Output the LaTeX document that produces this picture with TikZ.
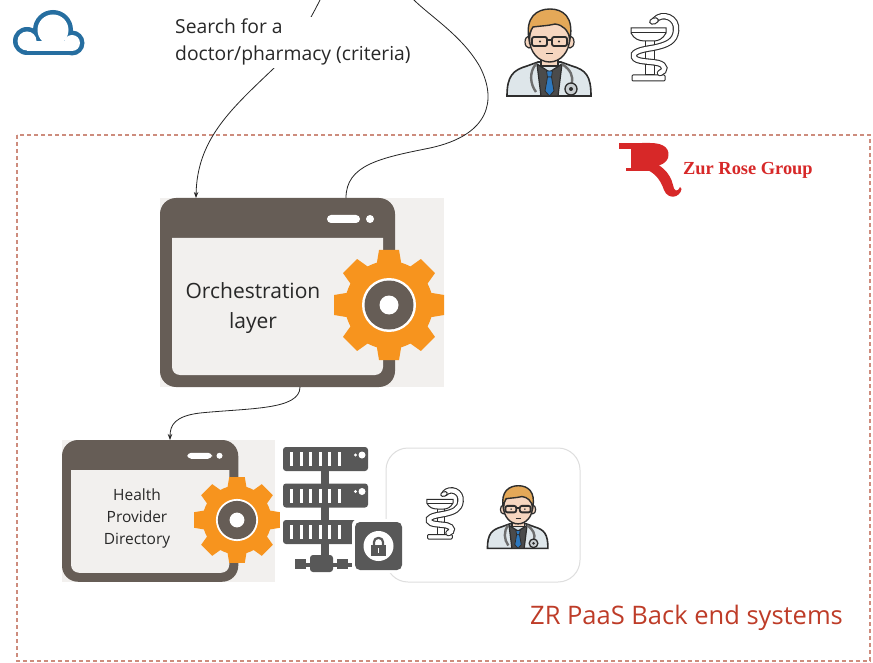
\documentclass[tikz,border=0pt]{standalone}
\usepackage{fontspec}
\setmainfont{Open Sans}
\newfontfamily\logofont{Liberation Serif}
\usetikzlibrary{arrows.meta,calc}

\definecolor{textdark}{RGB}{40,40,40}
\definecolor{ink}{RGB}{45,45,45}
\definecolor{cloudblue}{RGB}{38,110,160}
\definecolor{gearorange}{RGB}{247,148,30}
\definecolor{winbrown}{RGB}{102,93,86}
\definecolor{winpanel}{RGB}{242,240,238}
\definecolor{srvgray}{RGB}{88,88,88}
\definecolor{dashred}{RGB}{205,140,125}
\definecolor{zrred}{RGB}{215,40,40}
\definecolor{paasred}{RGB}{190,60,40}
\definecolor{panelline}{RGB}{222,222,222}
\definecolor{coatgray}{RGB}{222,230,234}
\definecolor{shirtgray}{RGB}{75,75,75}
\definecolor{tieblue}{RGB}{45,120,190}
\definecolor{skin}{RGB}{246,214,192}
\definecolor{hair}{RGB}{228,168,88}
\definecolor{steth}{RGB}{110,110,110}
\definecolor{stethdisc}{RGB}{200,205,208}

\newcommand\snakepath{(25,7) .. controls (32,-1) and (48,4) .. (46,18) .. controls (45,28) and (38,32) .. (22,35) .. controls (8,37) and (2,40) .. (4,44) .. controls (6,49) and (18,48) .. (28,50) .. controls (36,52) and (36,58) .. (30,60)}

\tikzset{
  conn/.style={draw=black!85, line width=0.8pt},
  tip/.style={-{Stealth[length=6pt,width=4.5pt]}},
  winnode/.style={inner sep=0pt, outer sep=0pt},
  % orange cog with dark hub
  cog/.pic={
    \fill[gearorange] (0,0) circle (44);
    \foreach \a in {0,45,...,315}
      \fill[gearorange, rotate=\a] (-10,-55) -- (10,-55) -- (12.5,-40) -- (-12.5,-40) -- cycle;
    \fill[white] (0,0) circle (27);
    \fill[winbrown] (0,0) circle (24.5);
    \fill[white] (0,0) circle (9.5);
  },
  % application window
  appwin/.pic={
    \fill[winpanel] (0,0) rectangle (284,189);
    \fill[winbrown, rounded corners=16] (0,0) rectangle (235,189);
    \fill[winpanel] (12,40) -- (223,40) {[rounded corners=8] -- (223,177) -- (12,177)} -- cycle;
    \fill[white, rounded corners=4] (167,17) rectangle (200,25);
    \fill[white] (210,21) circle (4);
  },
  % doctor avatar
  doctor/.pic={
    \filldraw[fill=coatgray, draw=ink, line width=1.6pt] (2,88) .. controls (2,68) and (8,62) .. (22,58) -- (33,54) -- (56,54) -- (67,58) .. controls (81,62) and (86,68) .. (86,88) -- cycle;
    \filldraw[fill=skin, draw=ink, line width=1.2pt] (36,44) rectangle (53,58);
    \filldraw[fill=shirtgray, draw=ink, line width=1.2pt] (32,56) -- (44.5,64) -- (57,56) -- (53,88) -- (36,88) -- cycle;
    \filldraw[fill=tieblue, draw=ink, line width=0.8pt] (41.5,63) -- (47.5,63) -- (46.5,69) -- (42.5,69) -- cycle;
    \filldraw[fill=tieblue, draw=ink, line width=0.8pt] (42.5,69) -- (40,83) -- (44.5,88) -- (49,83) -- (46.5,69) -- cycle;
    \filldraw[fill=skin, draw=ink, line width=1.2pt] (24,34) ellipse (4 and 6);
    \filldraw[fill=skin, draw=ink, line width=1.2pt] (65,34) ellipse (4 and 6);
    \filldraw[fill=skin, draw=ink, line width=1.4pt] (44.5,31) ellipse (20 and 23);
    \filldraw[fill=hair, draw=ink, line width=1.4pt] (24,31) .. controls (20,9) and (32,1) .. (45,1) .. controls (58,1) and (69,9) .. (65,31) .. controls (63,22) and (58,17) .. (50,16) .. controls (42,18) and (34,18) .. (28,19) .. controls (25,23) and (24.5,27) .. (24,31) -- cycle;
    \draw[ink, line width=1.8pt, rounded corners=2] (27,29) rectangle (42,38);
    \draw[ink, line width=1.8pt, rounded corners=2] (47,29) rectangle (62,38);
    \draw[ink, line width=1.5pt] (42,32) -- (47,32);
    \fill[ink] (35,33.5) circle (1.2);
    \fill[ink] (54,33.5) circle (1.2);
    \draw[ink, line width=1pt] (41,46) -- (48,46);
    \draw[steth, line width=2.4pt] (57,56) .. controls (66,62) and (68,68) .. (67,75);
    \draw[steth, line width=2.4pt] (31,56) .. controls (24,64) and (25,76) .. (31,84);
    \filldraw[fill=stethdisc, draw=ink, line width=1.3pt] (66,81) circle (6);
    \fill[ink] (66,81) circle (2);
  },
  % pharmacy sign (bowl and snake)
  pharma/.pic={
    \draw[ink, line width=1pt, fill=white, rounded corners=1] (2,62) rectangle (35,68);
    \draw[ink, line width=1pt, fill=white] (15,27) rectangle (24,62);
    \draw[ink, line width=1pt, fill=white] (1,15) -- (36,15) -- (36,20) .. controls (33,26) and (28,28) .. (24,28) -- (15,28) .. controls (9,28) and (4,26) .. (1,20) -- cycle;
    \draw[ink, line width=1pt] (1,20) -- (36,20);
    \draw[ink, line width=6.5pt, line cap=round] \snakepath;
    \draw[white, line width=4.3pt, line cap=round] \snakepath;
    \filldraw[fill=white, draw=ink, line width=1pt, rotate around={20:(24,8)}] (24,8) ellipse (4.5 and 3);
  },
  % server rack with lock badge
  server/.pic={
    \fill[srvgray] (38,20) rectangle (46,118);
    \foreach \i in {0,1,2} {
      \fill[srvgray, rounded corners=3] (0,36.5*\i) rectangle (85,36.5*\i+24);
      \foreach \j in {0,...,5}
        \fill[white] (7+9.6*\j,36.5*\i+5) rectangle (10+9.6*\j,36.5*\i+19);
      \fill[white] (79,36.5*\i+8) circle (3.5);
      \fill[white] (72.5,36.5*\i+8) circle (1.6);
    }
    \fill[srvgray] (12,116) rectangle (70,120);
    \fill[srvgray] (12,112) rectangle (23,122);
    \fill[srvgray, rounded corners=3] (27,108) rectangle (50,125);
    \fill[srvgray] (54,112) rectangle (65,122);
    \fill[white, rounded corners=6] (69,72) rectangle (122,126);
    \fill[srvgray, rounded corners=5] (72,75) rectangle (119,123);
    \fill[white] (95.5,99) circle (15);
    \draw[srvgray, line width=2.2pt, rounded corners=4] (91,101) -- (91,91) -- (100,91) -- (100,101);
    \fill[srvgray] (88,98) rectangle (103,109);
    \fill[white] (94.8,101) rectangle (96.2,106);
  },
}

\begin{document}
\begin{tikzpicture}[x=1pt, y=-1pt]
\useasboundingbox (0,0) rectangle (873,663);
\fill[white] (0,0) rectangle (873,663);

% platform boundary
\draw[dashred, line width=1.2pt, dash pattern=on 4pt off 3pt] (17,135) rectangle (870,661);

% cloud: outline made of overlapping blobs
\fill[cloudblue] (27,41) circle (14);
\fill[cloudblue] (53,30) circle (20);
\fill[cloudblue] (72,43) circle (12.5);
\fill[cloudblue] (27,41) rectangle (72,55.5);
\fill[white] (27,41) circle (9.5);
\fill[white] (53,30) circle (15.5);
\fill[white] (72,43) circle (8);
\fill[white] (27,41) rectangle (72,51);

% people on the outside
\pic at (505,8) {doctor};
\pic at (630,13) {pharma};

% logo mark: serif top, stem, bowl, base and curled leg
\fill[zrred] (619,143) rectangle (650,149);
\fill[zrred] (631,145) rectangle (646,170);
\fill[zrred] (642,143) -- (650,143) .. controls (666,143) and (670,150) .. (668,158) .. controls (665,165) and (657,167) .. (644,167) -- cycle;
\fill[zrred] (626,168) rectangle (651,171.5);
\fill[zrred] (648,160) .. controls (660,164) and (670,172) .. (673,185) .. controls (674,191) and (677,193) .. (680,187) -- (681.5,189) .. controls (680,198) and (668,200) .. (664,190) .. controls (660,178) and (653,171) .. (642,168) -- cycle;
\node[text=zrred, font=\logofont\bfseries\fontsize{18.4}{22}\selectfont, anchor=west, inner sep=0pt] (zrname) at (683,170) {Zur Rose Group};

% windows
\pic at (160,198) {appwin};
\pic at (389,305) {cog};
\pic[scale=0.75] at (62,440) {appwin};
\pic[scale=0.78] at (237,520) {cog};
\node[winnode, minimum width=235pt, minimum height=189pt] (orch) at (277.5,292.5) {};
\node[winnode, minimum width=176pt, minimum height=140pt] (hpd) at (150,510) {};
\node[text=textdark, align=center, font=\fontsize{21}{30}\selectfont] (orchtext) at (253,308) {Orchestration\\layer};
\node[text=textdark, align=center, font=\fontsize{15.5}{22}\selectfont] (hpdtext) at (137,518) {Health\\Provider\\Directory};

% directory entries
\draw[panelline, line width=1pt, rounded corners=22] (386,448) rectangle (580,582);
\pic at (283,447) {server};
\pic[scale=0.75] at (426,488) {pharma};
\pic[scale=0.72] at (486,485) {doctor};

\node[text=paasred, anchor=west, font=\fontsize{25.5}{30}\selectfont, inner sep=0pt] (paas) at (530,618) {ZR PaaS Back end systems};

% connectors
\coordinate (userin) at (321,-2);
\coordinate (userout) at (412,-2);
\draw[conn, tip] (userin) .. controls (300,40) and (285,58) .. (272,70) .. controls (230,110) and (197,140) .. ($(orch.north west)+(36,0)$);
\draw[conn] ($(orch.north west)+(186,0)$) .. controls (346,165) and (380,158) .. (430,148) .. controls (490,135) and (497,100) .. (480,67) .. controls (462,35) and (428,15) .. (userout);
\draw[conn, tip] ($(orch.south west)+(140,0)$) .. controls (300,410) and (250,408) .. (200,413) .. controls (175,416) and (170,425) .. ($(hpd.north west)+(108,0)$);

\node[anchor=north west, align=left, fill=white, inner sep=2pt, text=textdark, font=\fontsize{19.3}{27}\selectfont] (query) at (173,17) {Search for a\\doctor/pharmacy (criteria)};
\end{tikzpicture}
\end{document}
